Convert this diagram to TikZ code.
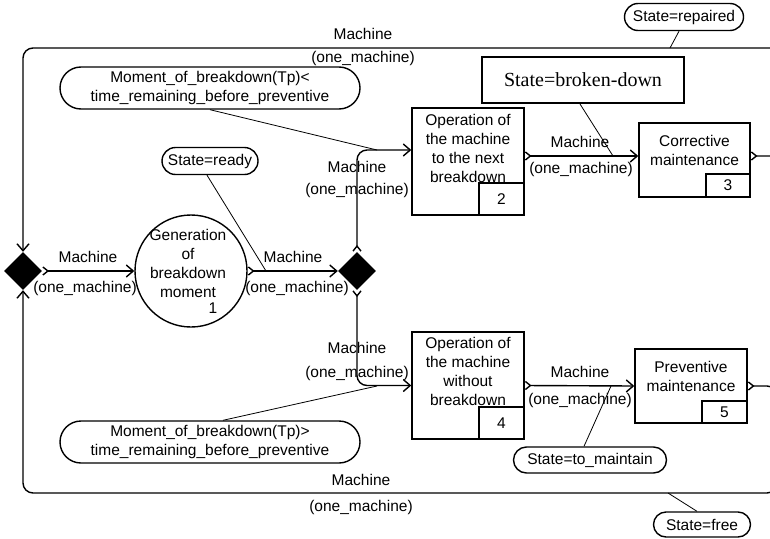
\documentclass[tikz,border=0pt]{standalone}
\usepackage{fontspec}
\setmainfont{Liberation Sans}
\newfontfamily\serifbd{Liberation Serif}
\usetikzlibrary{shapes.geometric,shapes.misc,arrows.meta}
\begin{document}
\begin{tikzpicture}[x=1pt,y=-1pt,
  every node/.style={font=\fontsize{15.5}{19}\selectfont},
  flow/.style={line width=1.4pt, rounded corners=10pt,
    arrows={Straight Barb[reversed,length=5pt,width=8pt]-Straight Barb[length=7pt,width=12pt]}},
  pinline/.style={line width=0.8pt},
  proc/.style={draw, line width=1.4pt, inner sep=0pt},
  numbox/.style={draw, line width=1.4pt, inner sep=0pt, anchor=south east},
  txt/.style={inner sep=0pt, align=center},
  lbl/.style={inner sep=0pt},
  statenode/.style={draw, rounded rectangle, line width=1.4pt, inner sep=0pt, minimum height=27pt},
  cond/.style={draw, rounded rectangle, line width=1.4pt, inner sep=0pt, align=center, minimum width=300pt, minimum height=42pt},
  junction/.style={diamond, fill=black, inner sep=0pt, minimum width=38pt, minimum height=38pt}
]
\useasboundingbox (0,0) rectangle (770,538);
\clip (0,0) rectangle (770,538);
\fill[white] (0,0) rectangle (770,538);

% junctions and circle
\node[junction] (ld) at (23,271) {};
\node[junction] (rd) at (357,271) {};
\node[draw, circle, line width=1.4pt, minimum size=112pt, inner sep=0pt] (circ) at (191,271) {};
\node[txt] (circt) at (188,263) {Generation\\of\\breakdown\\moment};
\node[lbl] (n1) at (213,308) {1};

% process boxes
\node[proc, minimum width=112pt, minimum height=107pt] (b2) at (468,161.5) {};
\node[txt] (b2t) at (468,148) {Operation of\\the machine\\to the next\\breakdown};
\node[numbox, minimum width=45pt, minimum height=32pt] (n2) at (b2.south east) {2};

\node[proc, minimum width=111pt, minimum height=74pt] (b3) at (694.5,160) {};
\node[txt] (b3t) at (694.5,150.5) {Corrective\\maintenance};
\node[numbox, minimum width=44pt, minimum height=23pt] (n3) at (b3.south east) {3};

\node[proc, minimum width=112pt, minimum height=107pt] (b4) at (468,385.5) {};
\node[txt] (b4t) at (468,371.5) {Operation of\\the machine\\without\\breakdown};
\node[numbox, minimum width=45pt, minimum height=32pt] (n4) at (b4.south east) {4};

\node[proc, minimum width=112pt, minimum height=74pt] (b5) at (691,386) {};
\node[txt] (b5t) at (691,376.5) {Preventive\\maintenance};
\node[numbox, minimum width=45pt, minimum height=22pt] (n5) at (b5.south east) {5};

% condition / state nodes
\node[cond] (c1) at (210,88) {Moment\_of\_breakdown(Tp)<\\time\_remaining\_before\_preventive};
\node[cond] (c2) at (210,442) {Moment\_of\_breakdown(Tp)>\\time\_remaining\_before\_preventive};
\node[statenode, minimum width=96pt] (sready) at (210,161) {State=ready};
\node[statenode, minimum width=119pt] (srep) at (684,17) {State=repaired};
\node[statenode, minimum width=153pt, minimum height=26pt] (smaint) at (590,460) {State=to\_maintain};
\node[statenode, minimum width=97pt, minimum height=25pt] (sfree) at (702,524.5) {State=free};
\node[draw, line width=2pt, inner sep=0pt, minimum width=202pt, minimum height=46pt,
      font=\serifbd\fontsize{20}{24}\selectfont] (sbd) at (583,80) {State=broken-down};

% connectors
\draw[flow] (ld.east) -- (circ.west);
\draw[flow] (circ.east) -- (rd.west);
\draw[flow] (rd.north) |- ([yshift=11.5pt]b2.west);
\draw[flow] (rd.south) |- (b4.west);
\draw[flow] ([yshift=5.5pt]b2.east) -- ([yshift=5.5pt]b2.east -| b3.west);
\draw[flow] (b4.east) -- (b5.west);
\draw[flow] ([yshift=4pt]b3.east) -- (792,156) -- (792,48) -- (23,48) -- (ld.north);
\draw[flow] (b5.east) -- (777,386) -- (777,493) -- (23,493) -- (ld.south);

% pin points on connectors
\coordinate (pready) at (266,271);
\coordinate (pc1) at (377,150);
\coordinate (pc2) at (377,386);
\coordinate (pbd) at (613,156);
\coordinate (pmaint) at (611,386);
\coordinate (pfree) at (668,493);
\coordinate (prep) at (670,48);

\draw[pinline] ([xshift=-3pt]sready.south) -- (pready);
\draw[pinline] (c1.south) -- (pc1);
\draw[pinline] ([xshift=13pt]c2.north) -- (pc2);
\draw[pinline] ([xshift=-3pt]sbd.south) -- (pbd);
\draw[pinline] ([xshift=-6pt]smaint.north) -- (pmaint);
\draw[pinline] ([xshift=-5pt]sfree.north) -- (pfree);
\draw[pinline] ([xshift=-5pt]srep.south) -- (prep);

% labels
\node[lbl] (l1a) at (88,257) {Machine};
\node[lbl] (l1b) at (85,288) {(one\_machine)};
\node[lbl] (l2a) at (293,257) {Machine};
\node[lbl] (l2b) at (297,288) {(one\_machine)};
\node[lbl] (l3a) at (357,167) {Machine};
\node[lbl] (l3b) at (357,190) {(one\_machine)};
\node[lbl] (l4a) at (357,348) {Machine};
\node[lbl] (l4b) at (357,373) {(one\_machine)};
\node[lbl] (l5a) at (580,142) {Machine};
\node[lbl] (l5b) at (581,169) {(one\_machine)};
\node[lbl] (l6a) at (580,372) {Machine};
\node[lbl] (l6b) at (580,400) {(one\_machine)};
\node[lbl] (l7a) at (363,34) {Machine};
\node[lbl] (l7b) at (363,58) {(one\_machine)};
\node[lbl] (l8a) at (361,480) {Machine};
\node[lbl] (l8b) at (361,507) {(one\_machine)};
\end{tikzpicture}
\end{document}
